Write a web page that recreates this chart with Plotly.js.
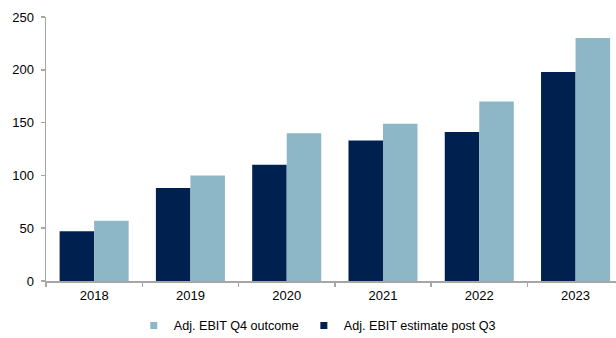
<!DOCTYPE html>
<html>
<head>
<meta charset="utf-8">
<script src="https://cdn.plot.ly/plotly-3.0.1.min.js"></script>
<style>html,body{margin:0;padding:0;background:#fff;}#chart{width:616px;height:338px;}</style>
</head>
<body>
<div id="chart"></div>
<script>
var years = ['2018', '2019', '2020', '2021', '2022', '2023'];
var estimatePostQ3 = [47, 88, 110, 133, 141, 198];
var q4Outcome = [57, 100, 140, 149, 170, 230];
var nameOutcome = 'Adj. EBIT Q4 outcome';
var nameEstimate = 'Adj. EBIT estimate post Q3';
var colorDark = '#00214f';
var colorLight = '#8db6c6';
var yTicks = [0, 50, 100, 150, 200, 250];

var font = {family: '"Liberation Sans", Arial, Helvetica, sans-serif', size: 13, color: '#000'};
var legendFont = {family: '"Liberation Sans", Arial, Helvetica, sans-serif', size: 12.6, color: '#000'};

var data = [
  {type: 'bar', x: years, y: estimatePostQ3, name: nameEstimate, marker: {color: colorDark}, showlegend: false, hoverinfo: 'y'},
  {type: 'bar', x: years, y: q4Outcome, name: nameOutcome, marker: {color: colorLight}, showlegend: false, hoverinfo: 'y'},
  {type: 'scatter', mode: 'markers', x: [null], y: [null], name: nameOutcome, marker: {symbol: 'square', size: 7, color: colorLight}, showlegend: true},
  {type: 'scatter', mode: 'markers', x: [null], y: [null], name: nameEstimate, marker: {symbol: 'square', size: 7, color: colorDark}, showlegend: true}
];

var layout = {
  width: 616, height: 338,
  margin: {l: 46, r: 0, t: 17, b: 57, autoexpand: false},
  paper_bgcolor: '#fff', plot_bgcolor: '#fff',
  font: font,
  barmode: 'group', bargap: 0.283, bargroupgap: 0,
  xaxis: {
    type: 'category', range: [-0.5, 5.42],
    showline: true, linecolor: '#a6a6a6', linewidth: 1.5,
    ticks: 'outside', tickson: 'boundaries', ticklen: 4, tickcolor: '#a6a6a6', tickwidth: 1.5,
    ticklabelstandoff: 2,
    showgrid: false, zeroline: false, tickfont: font, fixedrange: true
  },
  yaxis: {
    range: [0, 250], tickvals: yTicks,
    showline: true, linecolor: '#a6a6a6', linewidth: 1.5,
    ticks: 'outside', ticklen: 4, tickcolor: '#a6a6a6', tickwidth: 1.5,
    ticklabelstandoff: 4,
    showgrid: false, zeroline: false, tickfont: font, fixedrange: true
  },
  legend: {
    orientation: 'h', x: 0.154, xanchor: 'left', y: -0.17, yanchor: 'middle',
    font: legendFont, itemwidth: 30, bgcolor: 'rgba(0,0,0,0)'
  },
  showlegend: true
};

Plotly.newPlot('chart', data, layout, {displayModeBar: false, staticPlot: true});
</script>
</body>
</html>
